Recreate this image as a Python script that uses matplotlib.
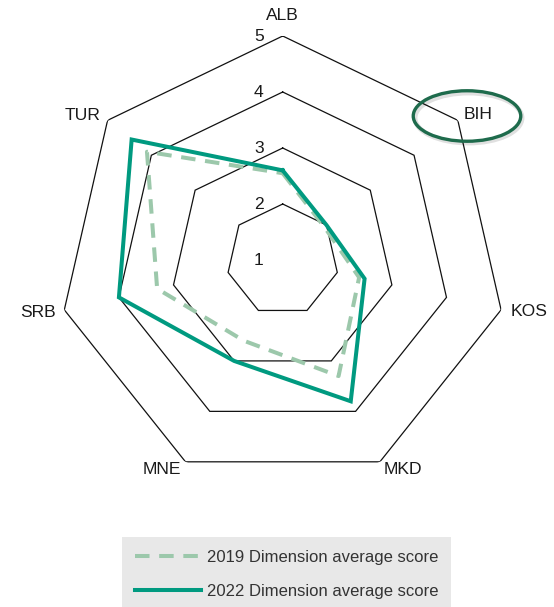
import numpy as np
import matplotlib
matplotlib.use("Agg")
import matplotlib.pyplot as plt
from matplotlib import font_manager
from matplotlib.patches import Ellipse

# Countries, clockwise from the top
countries = ["ALB", "BIH", "KOS", "MKD", "MNE", "SRB", "TUR"]
scores_2019 = [2.55, 1.95, 2.4, 3.3, 2.6, 3.3, 4.1]
scores_2022 = [2.6, 2.0, 2.5, 3.8, 3.0, 4.0, 4.45]
ring_levels = [2, 3, 4, 5]
tick_labels = ["1", "2", "3", "4", "5"]
series_labels = ["2019 Dimension average score", "2022 Dimension average score"]

W, H, DPI = 554, 607, 100
available = {f.name for f in font_manager.fontManager.ttflist}
family = "Liberation Sans Narrow" if "Liberation Sans Narrow" in available else "Liberation Sans"
plt.rcParams["font.family"] = [family, "DejaVu Sans"]
FS = 12.6

TEAL = "#009A80"
SAGE = "#9CC8AB"
RING = "#111111"

fig = plt.figure(figsize=(W / DPI, H / DPI), dpi=DPI)
fig.patch.set_facecolor("white")

# polar area: centre at (282.7, 260) px, radius 224 px
cx, cy, R = 282.7, 260.0, 224.0
ax = fig.add_axes([(cx - R) / W, 1 - (cy + R) / H, 2 * R / W, 2 * R / H],
                  projection="polar")
ax.set_theta_zero_location("N")
ax.set_theta_direction(-1)
ax.set_ylim(1, 5)
ax.grid(False)
ax.spines["polar"].set_visible(False)
ax.set_xticks([])
ax.set_yticks([])
ax.patch.set_alpha(0)

n = len(countries)
theta = np.arange(n) * 2 * np.pi / n
theta_c = np.append(theta, theta[0])

# heptagonal rings
for lv in ring_levels:
    ax.plot(theta_c, [lv] * (n + 1), color=RING, lw=0.9, zorder=1,
            solid_joinstyle="miter")

# radial scale labels along the ALB spoke
for i, lab in enumerate(tick_labels):
    ax.annotate(lab, xy=(0, i + 1), xytext=(-19, 0), textcoords="offset pixels",
                ha="right", va="center", fontsize=FS, color="#1a1a1a")

# series
v19 = np.append(scores_2019, scores_2019[0])
v22 = np.append(scores_2022, scores_2022[0])
l19, = ax.plot(theta_c, v19, color=SAGE, lw=2.9, linestyle=(0, (3.6, 2.4)),
               zorder=3, label=series_labels[0])
l22, = ax.plot(theta_c, v22, color=TEAL, lw=2.9, zorder=4,
               solid_joinstyle="miter", label=series_labels[1])

# country labels at the outer vertices
label_offsets = {
    "ALB": ((0, 21), "center"),
    "BIH": ((6, 6), "left"),
    "KOS": ((10, -2), "left"),
    "MKD": ((4, -8), "left"),
    "MNE": ((-4, -8), "right"),
    "SRB": ((-9, -3), "right"),
    "TUR": ((-7, 5), "right"),
}
for t, name in zip(theta, countries):
    (dx, dy), ha = label_offsets[name]
    ax.annotate(name, xy=(t, 5), xytext=(dx, dy), textcoords="offset pixels",
                ha=ha, va="center", fontsize=FS, color="#1a1a1a",
                annotation_clip=False)

# highlight ring around one country label
hx, hy = 467.0, 116.0
shadow = Ellipse(((hx + 1.5) / W, 1 - (hy + 2) / H), 107 / W, 50 / H,
                 transform=fig.transFigure, fill=False, ec="#000000",
                 lw=3.5, alpha=0.12)
fig.add_artist(shadow)
ring = Ellipse((hx / W, 1 - hy / H), 107.5 / W, 50.5 / H,
               transform=fig.transFigure, fill=False, ec="#1E6B4C", lw=2.4)
fig.add_artist(ring)

# legend
LFS = 12.0
leg = fig.legend(handles=[l19, l22], loc="upper left",
                 bbox_to_anchor=(122.3 / W, 1 - 537.3 / H),
                 bbox_transform=fig.transFigure,
                 fontsize=LFS, frameon=True, fancybox=False,
                 facecolor="#E8E8E8", edgecolor="none", framealpha=1,
                 handlelength=4.0, handletextpad=0.35, labelspacing=1.15,
                 borderpad=0.75, borderaxespad=0)
for txt in leg.get_texts():
    txt.set_color("#333333")

fig.savefig("out.png", dpi=DPI)
